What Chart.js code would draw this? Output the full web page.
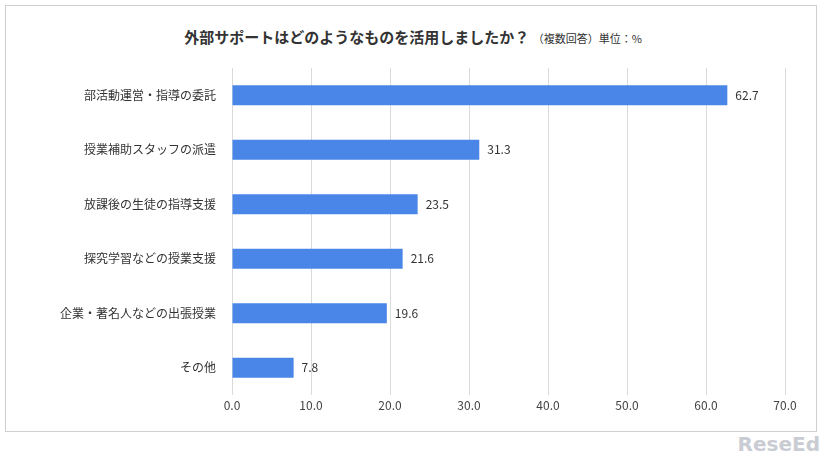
<!DOCTYPE html>
<html><head><meta charset="utf-8">
<script src="https://cdn.jsdelivr.net/npm/chart.js@4"></script>
<style>
body{margin:0;width:826px;height:458px;background:#fff;font-family:"Noto Sans CJK JP",sans-serif;overflow:hidden}
#box{position:absolute;left:5px;top:5px;width:810px;height:425px;border:1px solid #cfcfcf}
#title{position:absolute;left:0;width:826px;top:26px;text-align:center;font-size:15px;font-weight:bold;color:#333}
#title span{font-size:11px;font-weight:normal}
#logo{position:absolute;right:6px;bottom:2px;font:bold 20px "DejaVu Sans";color:#c9ccd2}
canvas{position:absolute;left:0;top:0}
</style></head><body>
<div id="box"></div>
<div id="title">外部サポートはどのようなものを活用しましたか？ <span>（複数回答）単位：%</span></div>
<div id="logo">ReseEd</div>
<canvas id="c" width="826" height="458"></canvas>
<script>
const categories=["部活動運営・指導の委託","授業補助スタッフの派遣","放課後の生徒の指導支援","探究学習などの授業支援","企業・著名人などの出張授業","その他"];
const values=[62.7,31.3,23.5,21.6,19.6,7.8];
const labelPlugin={id:'lbl',afterDatasetsDraw(ch){const ctx=ch.ctx;const m=ch.getDatasetMeta(0);ctx.save();ctx.font='12px "Noto Sans CJK JP"';ctx.fillStyle='#333';ctx.textBaseline='middle';m.data.forEach((b,i)=>{ctx.fillText(values[i].toFixed(1),b.x+8,b.y);});ctx.restore();}};
new Chart(document.getElementById('c'),{type:'bar',
data:{labels:categories,datasets:[{data:values,backgroundColor:'#4a86e8',barPercentage:0.74,categoryPercentage:0.5}]},
options:{indexAxis:'y',responsive:false,animation:false,layout:{padding:{left:0,right:41,top:68,bottom:0}},
plugins:{legend:{display:false},tooltip:{enabled:false}},
scales:{x:{min:0,max:70,ticks:{stepSize:10,callback:v=>v.toFixed(1),color:'#444',font:{size:12,family:'Noto Sans CJK JP'}},grid:{color:'#d9d9d9',drawTicks:false},border:{display:false},afterFit(s){s.height=63;}},
y:{ticks:{color:'#333',font:{size:12,family:'Noto Sans CJK JP'},padding:8},grid:{display:false},border:{display:false},afterFit(s){s.width=232;}}}},
plugins:[labelPlugin]});
</script></body></html>
